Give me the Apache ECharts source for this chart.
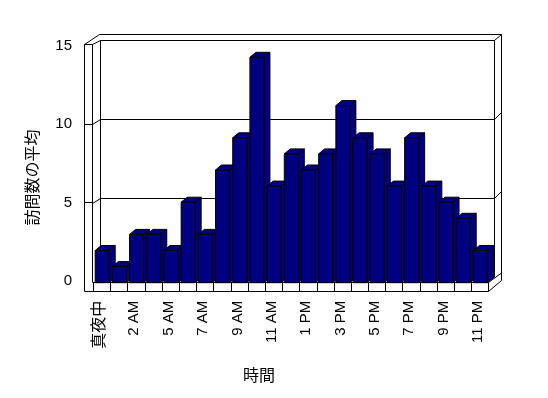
<!DOCTYPE html>
<html><head><meta charset="utf-8">
<script src="https://cdn.jsdelivr.net/npm/echarts@6/dist/echarts.min.js"></script>
<style>html,body{margin:0;padding:0;background:#fff}#c{width:548px;height:398px}</style>
</head><body><div id="c"></div>
<script>
const categories = ['真夜中','1 AM','2 AM','3 AM','5 AM','6 AM','7 AM','8 AM','9 AM','10 AM','11 AM','正午','1 PM','2 PM','3 PM','4 PM','5 PM','6 PM','7 PM','8 PM','9 PM','10 PM','11 PM'];
const visits = [2,1,3,3,2,5,3,7,9,14,6,8,7,8,11,9,8,6,9,6,5,4,2];
const yTicks = [0,5,10,15];
const yTitle = '訪問数の平均';
const xTitle = '時間';

const FONT = "'Liberation Sans','Noto Sans CJK JP',sans-serif";
const NAVY = '#000080';
const chart = echarts.init(document.getElementById('c'), null, {renderer:'canvas'});

const option = {
  backgroundColor: '#fff',
  animation: false,
  grid: [
    {left: 93.3, right: 59.3, top: 41.2, bottom: 115.3},
    {left: 84.5, width: 10, top: 46, bottom: 117},
    {left: 100.5, right: 53.5, top: 40.5, bottom: 121}
  ],
  xAxis: [
    {gridIndex:0, type:'category', data: categories, boundaryGap:true,
     axisLine:{show:true, lineStyle:{color:'#000', width:1}},
     axisTick:{show:true, interval:0, length:8.5, lineStyle:{color:'#000'}},
     axisLabel:{interval:1, rotate:90, margin:18, color:'#000', fontSize:15, fontFamily:FONT, padding:[0,0,4,0],
       formatter: v => /[^\x00-\x7f]/.test(v) ? '{j|' + v + '}' : v,
       rich:{j:{fontSize:16, fontFamily:FONT, color:'#000'}}},
     name: xTitle, nameLocation:'middle', nameGap:86,
     nameTextStyle:{color:'#000', fontSize:16, fontFamily:FONT, padding:[0,64,0,0]}},
    {gridIndex:1, type:'value', show:false},
    {gridIndex:2, type:'value', show:false}
  ],
  yAxis: [
    {gridIndex:0, type:'value', min:0, max:15, show:false},
    {gridIndex:1, type:'value', min:yTicks[0], max:yTicks[yTicks.length-1], interval:5,
     axisLine:{show:false},
     axisTick:{show:true, inside:true, length:8.5, customValues:[5,10], lineStyle:{color:'#000'}},
     axisLabel:{margin:12.5, color:'#000', fontSize:15, fontFamily:FONT},
     splitLine:{show:false},
     name: yTitle, nameLocation:'middle', nameGap:43, nameRotate:90,
     nameTextStyle:{color:'#000', fontSize:16, fontFamily:FONT, padding:[0,28,0,0]}},
    {gridIndex:2, type:'value', min:0, max:15, interval:5,
     axisLine:{show:false}, axisTick:{show:false}, axisLabel:{show:false},
     splitLine:{show:true, lineStyle:{color:'#000', width:1}}}
  ],
  series: [{
    type:'custom', xAxisIndex:0, yAxisIndex:0, z:5,
    data: visits.map((v,i)=>[i,v]),
    encode:{x:0, y:1},
    renderItem(params, api){
      const i = api.value(0), v = api.value(1);
      const b = api.coord([i, 0]);
      const t = api.coord([i, v]);
      const cw = api.size([1, 0])[0];
      const bw = cw * 0.815;
      const dx = 6, dy = 5;
      const l = b[0] - bw/2 + 0.3, r = l + bw, top = t[1], bot = b[1];
      const st = {fill: NAVY, stroke:'#000', lineWidth:1};
      return {type:'group', children:[
        {type:'polygon', shape:{points:[[r,top],[r+dx,top-dy],[r+dx,bot-dy],[r,bot]]}, style:st},
        {type:'polygon', shape:{points:[[l,top],[l+dx,top-dy],[r+dx,top-dy],[r,top]]}, style:st},
        {type:'rect', shape:{x:l, y:top, width:bw, height:bot-top}, style:st}
      ]};
    }
  }]
};
chart.setOption(option);

// wall / floor frame (decoration), gridline connectors computed from axes
function L(x1,y1,x2,y2){return {type:'line', z:1, shape:{x1,y1,x2,y2}, style:{stroke:'#000', lineWidth:1}};}
const els = [
  L(84.5,44.5,84.5,291.5), L(92.5,44.5,92.5,282.5), L(84.5,44.5,92.5,44.5),
  L(84.5,44.5,99.5,34.5), L(92.5,44.5,100.5,40.5),
  L(100.5,40.5,100.5,277.5), L(100.5,40.5,494.5,40.5), L(99.5,34.5,501.5,34.5),
  L(494.5,40.5,494.5,277), L(501.5,34.5,501.5,280.5), L(494.5,40.5,501.5,34.5),
  L(84.5,291.5,488.5,291.5), L(488.5,291.5,501.5,280.5), L(488.5,282.5,501.5,273)
];
[5,10].forEach(v=>{
  const yf = chart.convertToPixel({yAxisIndex:1}, v);
  const yb = chart.convertToPixel({yAxisIndex:2}, v);
  els.push(L(92.5, Math.round(yf)+0.5, 100.5, Math.round(yb)+0.5));
  els.push(L(494.5, Math.round(yb)+0.5, 501.5, Math.round(yb)-6.5));
});
chart.setOption({graphic: els});
</script></body></html>
